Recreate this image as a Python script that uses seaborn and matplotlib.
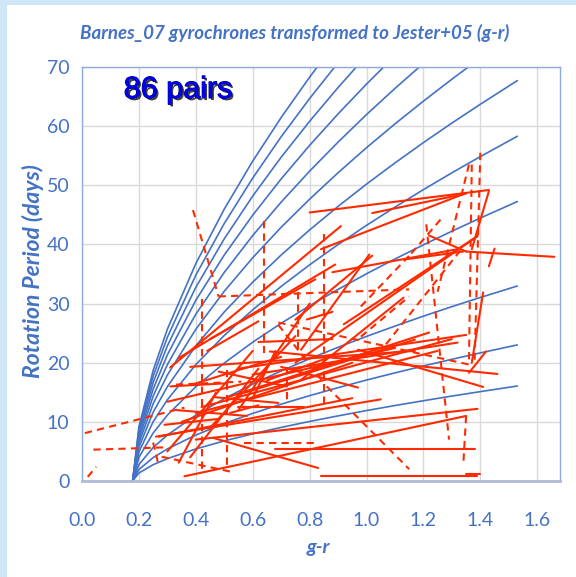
import matplotlib
matplotlib.use('Agg')
import matplotlib.pyplot as plt
import matplotlib.patheffects as pe
from matplotlib.patches import Rectangle
import seaborn as sns
import pandas as pd

# ---------------- data ----------------
title = "Barnes_07 gyrochrones transformed to Jester+05 (g-r)"
x_label = "g-r"
y_label = "Rotation Period (days)"
note = "86 pairs"

x_ticks = [0.0, 0.2, 0.4, 0.6, 0.8, 1.0, 1.2, 1.4, 1.6]
y_ticks = [0, 10, 20, 30, 40, 50, 60, 70]

# gyrochrones (g-r sample points, periods)
gyro_gr = [0.178, 0.2, 0.25, 0.3, 0.4, 0.5, 0.6, 0.7, 0.8, 0.9, 1.0, 1.1, 1.2, 1.3, 1.4, 1.53]
p_0250 = [0, 1.35, 2.76, 3.78, 5.42, 6.78, 7.98, 9.06, 10.07, 11.01, 11.91, 12.76, 13.57, 14.36, 15.11, 16.06]
p_0500 = [0, 1.94, 3.95, 5.42, 7.77, 9.72, 11.43, 12.99, 14.43, 15.78, 17.07, 18.28, 19.45, 20.58, 21.66, 23.01]
p_1000 = [0, 2.77, 5.66, 7.77, 11.13, 13.92, 16.38, 18.61, 20.67, 22.61, 24.45, 26.19, 27.87, 29.48, 31.03, 32.97]
p_2000 = [0, 3.98, 8.11, 11.13, 15.95, 19.94, 23.47, 26.67, 29.63, 32.40, 35.04, 37.54, 39.93, 42.24, 44.46, 47.25]
p_3000 = [0, 4.90, 10.01, 13.73, 19.68, 24.61, 28.95, 32.90, 36.55, 39.98, 43.23, 46.31, 49.27, 52.11, 54.85, 58.29]
p_4000 = [0, 5.70, 11.62, 15.95, 22.85, 28.58, 33.62, 38.21, 42.45, 46.43, 50.20, 53.78, 57.22, 60.52, 63.70, 67.70]
p_5000 = [0, 6.39, 13.05, 17.91, 25.65, 32.08, 37.75, 42.90, 47.65, 52.12, 56.36, 60.38, 64.23, 67.94, 71.51]
p_6000 = [0, 7.03, 14.34, 19.68, 28.20, 35.27, 41.50, 47.16, 52.39, 57.30, 61.96, 66.38, 70.61, 74.70]
p_7000 = [0, 7.62, 15.54, 21.32, 30.55, 38.21, 44.95, 51.08, 56.75, 62.07, 67.11, 71.90, 76.49]
p_8000 = [0, 8.16, 16.65, 22.85, 32.74, 40.95, 48.18, 54.75, 60.82, 66.53, 71.93]
p_9000 = [0, 8.68, 17.71, 24.30, 34.81, 43.54, 51.22, 58.21, 64.67, 70.73]
p_10000 = [0, 9.16, 18.69, 25.66, 36.76, 45.97, 54.09, 61.46, 68.28, 74.68]
gyro_ages = [250, 500, 1000, 2000, 3000, 4000, 5000, 6000, 7000, 8000, 9000, 10000]
gyro_periods = [p_0250, p_0500, p_1000, p_2000, p_3000, p_4000, p_5000,
                p_6000, p_7000, p_8000, p_9000, p_10000]

# pairs drawn as solid segments: (g-r 1, P 1, g-r 2, P 2)
solid_pairs = [
    (0.80, 45.4, 1.43, 49.2), (1.02, 45.3, 1.35, 48.6), (0.84, 39.2, 1.34, 48.5),
    (0.31, 19.2, 0.91, 43.1), (0.34, 20.8, 0.89, 36.6), (0.88, 35.3, 1.32, 39.2),
    (1.35, 38.8, 1.66, 37.9), (1.22, 41.5, 1.35, 38.8), (1.45, 39.3, 1.43, 36.3),
    (0.92, 26.5, 1.39, 41.4), (0.75, 20.0, 1.39, 41.4), (1.43, 49.0, 1.37, 39.2),
    (1.41, 31.9, 1.37, 20.0), (1.42, 21.9, 1.36, 18.3), (0.66, 21.9, 1.46, 18.1),
    (0.97, 22.2, 1.41, 15.9), (0.55, 19.0, 1.35, 24.7), (0.60, 18.0, 1.32, 23.4),
    (0.50, 14.0, 1.22, 25.1), (0.36, 0.8, 1.35, 11.0), (0.40, 7.0, 1.39, 12.2),
    (0.68, 5.4, 1.38, 5.4), (0.84, 0.85, 1.39, 0.85), (1.35, 1.2, 1.40, 1.2),
    (0.77, 22.2, 1.01, 38.3), (0.77, 17.1, 1.13, 31.0), (1.14, 37.5, 1.34, 38.8),
    (0.45, 24.0, 0.82, 34.1), (0.75, 27.3, 1.02, 38.1), (0.79, 27.3, 0.88, 28.6),
    (0.70, 19.3, 0.97, 15.8), (0.46, 7.3, 0.83, 2.2), (0.38, 19.3, 1.17, 22.0),
    (0.30, 13.4, 1.10, 22.5), (0.27, 7.5, 0.95, 14.0), (0.34, 3.1, 0.47, 14.9),
    (0.46, 14.2, 0.69, 13.2), (0.26, 7.5, 1.05, 13.8), (0.57, 14.9, 1.17, 23.9),
    (0.40, 11.5, 1.25, 22.0), (0.35, 10.0, 0.95, 20.0), (0.42, 12.5, 1.30, 24.0),
    (0.30, 5.0, 0.60, 22.0), (0.38, 4.0, 0.62, 19.0), (0.45, 9.0, 0.75, 24.5),
    (0.55, 12.0, 0.80, 30.0), (0.60, 14.0, 0.68, 22.0), (0.31, 16.0, 0.50, 16.5),
    (0.52, 11.5, 0.62, 12.8), (0.29, 9.5, 0.48, 10.5), (0.48, 18.5, 0.72, 16.0),
    (0.62, 23.5, 0.88, 24.0), (0.55, 12.5, 0.78, 12.5), (0.40, 16.5, 0.70, 21.0),
    (0.65, 17.0, 0.90, 21.5), (0.33, 12.0, 0.58, 11.0), (0.44, 22.0, 0.62, 27.0),
]

# pairs drawn as dashed segments
dashed_pairs = [
    (0.02, 0.7, 0.05, 2.4), (0.01, 8.1, 0.36, 12.4), (0.04, 5.3, 0.30, 5.7),
    (0.39, 45.8, 0.48, 31.2), (0.48, 31.2, 1.15, 32.4), (0.42, 30.7, 0.42, 1.9),
    (0.64, 43.9, 0.64, 21.7), (0.85, 41.7, 0.85, 13.2), (0.76, 32.0, 0.76, 22.0),
    (0.86, 16.0, 1.15, 2.0), (0.69, 26.8, 1.36, 19.7), (1.40, 55.5, 1.38, 20.5),
    (1.37, 53.5, 1.36, 20.0), (1.36, 53.5, 1.25, 32.0), (1.21, 43.4, 1.29, 7.0),
    (1.35, 11.0, 1.34, 2.7), (1.26, 44.2, 1.14, 37.5), (1.33, 39.0, 1.05, 22.0),
    (0.98, 29.5, 1.16, 38.6), (0.98, 24.4, 1.15, 31.2), (0.28, 4.1, 0.53, 1.5),
    (0.57, 6.4, 0.83, 6.4), (0.33, 16.3, 0.56, 16.8), (0.69, 26.4, 0.85, 16.6),
    (0.51, 18.8, 0.51, 1.9), (0.25, 6.5, 0.27, 2.5), (0.72, 19.3, 0.72, 13.7),
]

# ---------------- tables for seaborn ----------------
g_rows = []
for age, per in zip(gyro_ages, gyro_periods):
    for gr, p in zip(gyro_gr, per):
        g_rows.append({"gr": gr, "P": p, "age": age})
gdf = pd.DataFrame(g_rows)

r_rows = []
pid = 0
for kind, pairs in (("solid", solid_pairs), ("dashed", dashed_pairs)):
    for (x1, y1, x2, y2) in pairs:
        r_rows.append({"gr": x1, "P": y1, "pair": pid, "kind": kind})
        r_rows.append({"gr": x2, "P": y2, "pair": pid, "kind": kind})
        pid += 1
rdf = pd.DataFrame(r_rows)

# ---------------- figure ----------------
sns.set_style("white")
plt.rcParams['font.family'] = ['Lato', 'DejaVu Sans']

W, H = 576, 577
fig = plt.figure(figsize=(W / 100, H / 100), dpi=100, facecolor='#CFE6F7')
fig.patches.append(Rectangle((7 / W, 0), 1, 572 / H, transform=fig.transFigure,
                             facecolor='white', edgecolor='none', zorder=-10))
ax = fig.add_axes([82 / W, 96 / H, 478 / W, 414 / H])
ax.set_zorder(5)
ax.set_facecolor('white')

blue = '#4472C4'
red = '#FF2A00'

sns.lineplot(data=gdf, x="gr", y="P", units="age", estimator=None, sort=False,
             color=blue, lw=1.2, ax=ax, legend=False)
sns.lineplot(data=rdf, x="gr", y="P", units="pair", estimator=None, sort=False,
             style="kind", dashes={"solid": "", "dashed": (3.5, 2.5)},
             color=red, lw=1.5, ax=ax, legend=False)

ax.set_xlim(0, 1.68)
ax.set_ylim(0, 70)
ax.set_xticks(x_ticks)
ax.set_xticklabels([f"{v:.1f}" for v in x_ticks])
ax.set_yticks(y_ticks)
ax.grid(True, color='#D9D9D9', lw=1)
ax.set_axisbelow(True)
ax.set_xlabel("")
ax.set_ylabel("")
ax.tick_params(axis='both', length=0, labelcolor=blue, labelsize=14)
ax.tick_params(axis='x', pad=22)
ax.tick_params(axis='y', pad=9)
for s in ('top', 'right', 'left'):
    ax.spines[s].set_color('#8FAADC')
    ax.spines[s].set_linewidth(1)
ax.spines['bottom'].set_color('#AEBBD3')
ax.spines['bottom'].set_linewidth(2)

fig.text(295 / W, 1 - 33 / H, title, ha='center', va='center', color=blue,
         fontsize=13.5, fontweight='bold', fontstyle='italic')
fig.text(33 / W, 1 - 271 / H, y_label, ha='center', va='center', rotation=90,
         color=blue, fontsize=16.5, fontweight='bold', fontstyle='italic')
fig.text(318 / W, 1 - 548 / H, x_label, ha='center', va='center', color=blue,
         fontsize=14, fontweight='bold', fontstyle='italic')
ax.text((178 - 82) / 478, (481 - 90) / 414, note, transform=ax.transAxes,
        ha='center', va='center', color='#0000FF', zorder=20,
        fontsize=22, family=['Liberation Sans', 'DejaVu Sans'],
        path_effects=[pe.SimplePatchShadow(offset=(1.5, -1.5), shadow_rgbFace='black', alpha=0.75),
                      pe.Stroke(linewidth=0.8, foreground='#000066'), pe.Normal()])

fig.savefig("out.png", dpi=100, facecolor=fig.get_facecolor())
